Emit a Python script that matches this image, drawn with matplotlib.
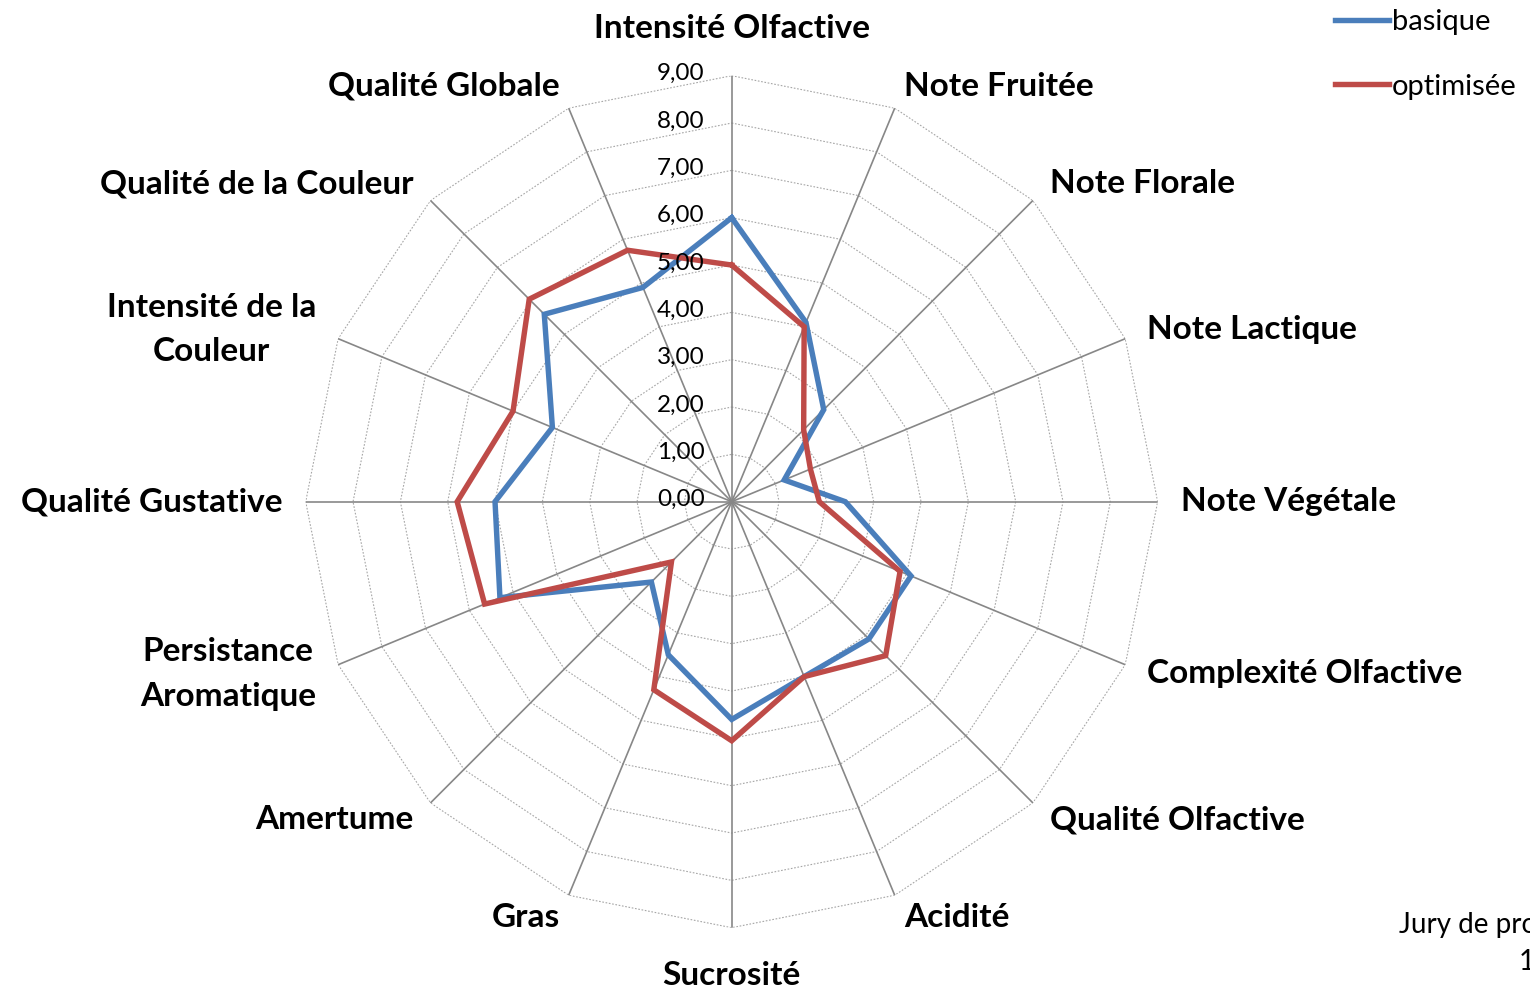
import numpy as np
import matplotlib
matplotlib.use("Agg")
import matplotlib.pyplot as plt

plt.rcParams['font.family'] = ['Lato', 'DejaVu Sans']

categories = ["Intensité Olfactive", "Note Fruitée", "Note Florale", "Note Lactique",
              "Note Végétale", "Complexité Olfactive", "Qualité Olfactive", "Acidité",
              "Sucrosité", "Gras", "Amertume", "Persistance\nAromatique",
              "Qualité Gustative", "Intensité de la\nCouleur", "Qualité de la Couleur",
              "Qualité Globale"]
basique = [6.0, 4.1, 2.75, 1.2, 2.4, 4.1, 4.1, 4.0, 4.6, 3.5, 2.4, 5.3, 5.0, 4.1, 5.6, 4.9]
optimisee = [5.0, 4.0, 2.15, 1.8, 1.85, 3.85, 4.6, 4.0, 5.05, 4.3, 1.8, 5.65, 5.8, 5.0, 6.05, 5.75]
series_names = ["basique", "optimisée"]
tick_values = [0, 1, 2, 3, 4, 5, 6, 7, 8, 9]
tick_labels = ["0,00", "1,00", "2,00", "3,00", "4,00", "5,00", "6,00", "7,00", "8,00", "9,00"]

W, H = 1530, 991
fig = plt.figure(figsize=(W / 100, H / 100), dpi=100)
cx, cy, R = 731.7, 501.7, 426.0
ax = fig.add_axes([(cx - R) / W, (H - cy - R) / H, 2 * R / W, 2 * R / H], projection='polar')
ax.set_theta_zero_location('N')
ax.set_theta_direction(-1)
ax.set_ylim(0, 9)
ax.grid(False)
ax.spines['polar'].set_visible(False)
ax.set_xticks([])
ax.set_yticks([])
ax.patch.set_visible(False)

n = len(categories)
theta = np.linspace(0, 2 * np.pi, n, endpoint=False)
theta_c = np.append(theta, theta[0])

# polygon rings
for v in tick_values[1:]:
    ax.plot(theta_c, [v] * (n + 1), color='#A6A6A6', lw=0.8, ls=(0, (1.5, 1.5)), zorder=1)
# spokes
for t in theta:
    ax.plot([t, t], [0, 9], color='#878787', lw=1.2, zorder=2)

colors = ['#4A7EBB', '#BE4B48']
for vals, c, name in zip([basique, optimisee], colors, series_names):
    ax.plot(theta_c, vals + vals[:1], color=c, lw=3.9, label=name, zorder=4,
            solid_joinstyle='miter')

# tick labels along the vertical axis
for v, lab in zip(tick_values, tick_labels):
    y_pix = cy - v * R / 9
    fig.text((cx - 27) / W, 1 - (y_pix - 2) / H, lab, ha='right', va='center', fontsize=17.5,
             color='black')

# category labels
for t, lab in zip(theta, categories):
    s = np.sin(t)
    if abs(s) < 1e-6:
        ax.text(t, 10.0, lab, ha='center', va='center', fontsize=24, fontweight='bold')
    else:
        ha = 'left' if s > 0 else 'right'
        ax.text(t, 9.5, lab, ha=ha, va='center', fontsize=24, fontweight='bold',
                multialignment='center', linespacing=1.65)

leg = fig.legend(loc='upper left', bbox_to_anchor=(1335 / W, 1 - 9 / H), frameon=False,
                 fontsize=21, handlelength=1.85, handletextpad=0.1, labelspacing=1.32,
                 borderpad=0, borderaxespad=0)

fig.text(1399 / W, 1 - 925 / H, "Jury de professionnels", ha='left', va='center', fontsize=20)
fig.text(1519 / W, 1 - 962 / H, "1", ha='left', va='center', fontsize=20)

fig.savefig("out.png", dpi=100, facecolor='white')
